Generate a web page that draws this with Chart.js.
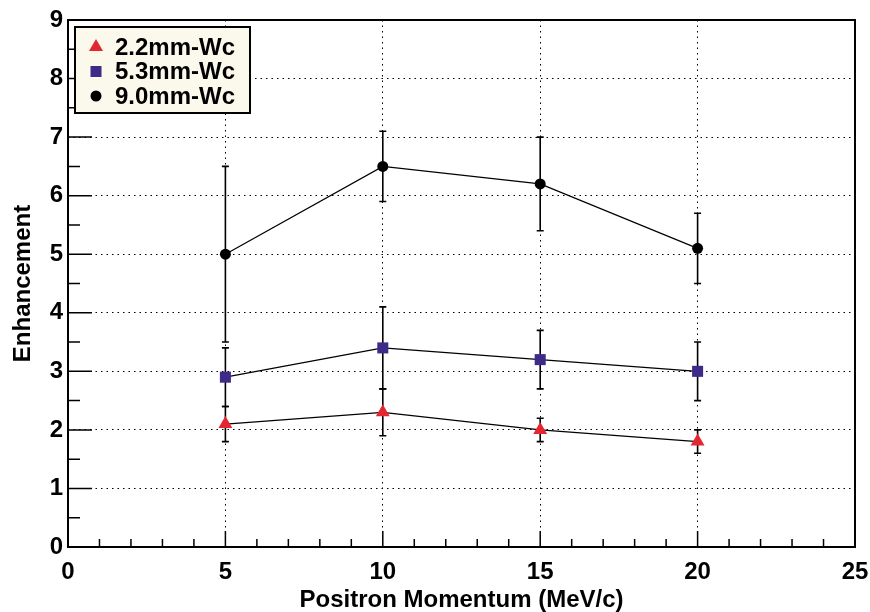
<!DOCTYPE html>
<html>
<head>
<meta charset="utf-8">
<script src="https://cdn.jsdelivr.net/npm/chart.js@4.4.0/dist/chart.umd.min.js"></script>
<style>
  body { margin: 0; background: #fff; }
</style>
</head>
<body>
<canvas id="myChart" width="870" height="612"></canvas>
<script>
var ctx = document.getElementById('myChart').getContext('2d');

// data
var momentum = [5, 10, 15, 20];
var wc22 = [2.1, 2.3, 2.0, 1.8];
var wc22Err = [0.3, 0.4, 0.2, 0.2];
var wc53 = [2.9, 3.4, 3.2, 3.0];
var wc53Err = [0.5, 0.7, 0.5, 0.5];
var wc90 = [5.0, 6.5, 6.2, 5.1];
var wc90Err = [1.5, 0.6, 0.8, 0.6];
var labels = ["2.2mm-Wc", "5.3mm-Wc", "9.0mm-Wc"];

var FONT = "'Liberation Sans', Arial, Helvetica, sans-serif";

function points(ys) {
  return momentum.map(function(x, i) { return { x: x, y: ys[i] }; });
}

// error bars drawn through the scales
var errorBars = {
  id: 'errorBars',
  beforeDatasetsDraw: function(chart) {
    var c = chart.ctx, xs = chart.scales.x, ys = chart.scales.y;
    c.save();
    c.strokeStyle = '#000';
    c.lineWidth = 1.6;
    chart.data.datasets.forEach(function(ds) {
      ds.errors.forEach(function(e, i) {
        var px = xs.getPixelForValue(ds.data[i].x);
        var top = ys.getPixelForValue(ds.data[i].y + e);
        var bot = ys.getPixelForValue(ds.data[i].y - e);
        c.beginPath();
        c.moveTo(px, top); c.lineTo(px, bot);
        c.moveTo(px - 3.5, top); c.lineTo(px + 3.5, top);
        c.moveTo(px - 3.5, bot); c.lineTo(px + 3.5, bot);
        c.stroke();
      });
    });
    c.restore();
  }
};

// ROOT style frame with inner ticks
var frame = {
  id: 'frame',
  afterDatasetsDraw: function(chart) {
    var c = chart.ctx, a = chart.chartArea, xs = chart.scales.x, ys = chart.scales.y;
    c.save();
    c.strokeStyle = '#000';
    c.lineWidth = 1.5;
    c.beginPath();
    for (var v = 0; v <= 25; v++) {
      var px = xs.getPixelForValue(v);
      c.moveTo(px, a.bottom);
      c.lineTo(px, a.bottom - (v % 5 === 0 ? 16 : 8));
    }
    for (var w = 0; w <= 9; w += 0.5) {
      var py = ys.getPixelForValue(w);
      c.moveTo(a.left, py);
      c.lineTo(a.left + (w % 1 === 0 ? 24 : 12), py);
    }
    c.stroke();
    c.lineWidth = 2;
    c.strokeRect(a.left, a.top, a.right - a.left, a.bottom - a.top);
    c.restore();
  }
};

function marker(c, style, color, x, y) {
  c.fillStyle = color;
  c.beginPath();
  if (style === 'triangle') {
    c.moveTo(x, y - 8); c.lineTo(x + 7, y + 4); c.lineTo(x - 7, y + 4); c.closePath();
  } else if (style === 'rect') {
    c.rect(x - 5.5, y - 5.5, 11, 11);
  } else {
    c.arc(x, y, 5.5, 0, Math.PI * 2);
  }
  c.fill();
}

var boxLegend = {
  id: 'boxLegend',
  afterDraw: function(chart) {
    var c = chart.ctx, a = chart.chartArea;
    var bx = a.left + 7, by = a.top + 7, bw = 175, bh = 86;
    c.save();
    c.fillStyle = '#fbf8ec';
    c.fillRect(bx, by, bw, bh);
    c.strokeStyle = '#000';
    c.lineWidth = 2;
    c.strokeRect(bx, by, bw, bh);
    c.font = 'bold 24px ' + FONT;
    c.textBaseline = 'middle';
    chart.data.datasets.forEach(function(ds, i) {
      var y = by + 20 + i * 24.5;
      marker(c, ds.pointStyle, ds.pointBackgroundColor, bx + 21, y);
      c.fillStyle = '#000';
      c.fillText(ds.label, bx + 40, y + 1);
    });
    c.restore();
  }
};

var chart = new Chart(ctx, {
  type: 'line',
  data: {
    datasets: [{
      label: labels[0],
      data: points(wc22),
      errors: wc22Err,
      borderColor: '#000',
      borderWidth: 1.2,
      pointStyle: 'triangle',
      pointRadius: 8,
      pointBackgroundColor: '#e3262f',
      pointBorderColor: '#e3262f',
      pointBorderWidth: 0
    }, {
      label: labels[1],
      data: points(wc53),
      errors: wc53Err,
      borderColor: '#000',
      borderWidth: 1.2,
      pointStyle: 'rect',
      pointRadius: 7.8,
      pointBackgroundColor: '#3d2b87',
      pointBorderColor: '#3d2b87',
      pointBorderWidth: 0
    }, {
      label: labels[2],
      data: points(wc90),
      errors: wc90Err,
      borderColor: '#000',
      borderWidth: 1.2,
      pointStyle: 'circle',
      pointRadius: 5.5,
      pointBackgroundColor: '#000',
      pointBorderColor: '#000',
      pointBorderWidth: 0
    }]
  },
  options: {
    responsive: false,
    animation: false,
    events: [],
    layout: { padding: { left: 0, top: 20, right: 15, bottom: 0 } },
    plugins: { legend: { display: false }, tooltip: { enabled: false } },
    scales: {
      x: {
        type: 'linear',
        min: 0, max: 25,
        afterFit: function(s) { s.height = 65; s.paddingLeft = 0; s.paddingRight = 0; },
        ticks: { stepSize: 5, padding: 11, color: '#000', font: { family: FONT, size: 24, weight: 'bold' } },
        grid: { color: '#000', lineWidth: 1, drawTicks: false },
        border: { display: false, dash: [1.5, 4] },
        title: { display: true, text: 'Positron Momentum (MeV/c)', color: '#000', padding: { top: 0, bottom: -3 },
                 font: { family: FONT, size: 24, weight: 'bold' } }
      },
      y: {
        min: 0, max: 9,
        afterFit: function(s) { s.width = 68; s.paddingTop = 0; s.paddingBottom = 0; },
        ticks: { stepSize: 1, padding: 5, color: '#000', font: { family: FONT, size: 24, weight: 'bold' } },
        grid: { color: '#000', lineWidth: 1, drawTicks: false },
        border: { display: false, dash: [1.5, 4] },
        title: { display: true, text: 'Enhancement', color: '#000', padding: { top: 9, bottom: 0 },
                 font: { family: FONT, size: 24, weight: 'bold' } }
      }
    }
  },
  plugins: [errorBars, frame, boxLegend]
});
</script>
</body>
</html>
